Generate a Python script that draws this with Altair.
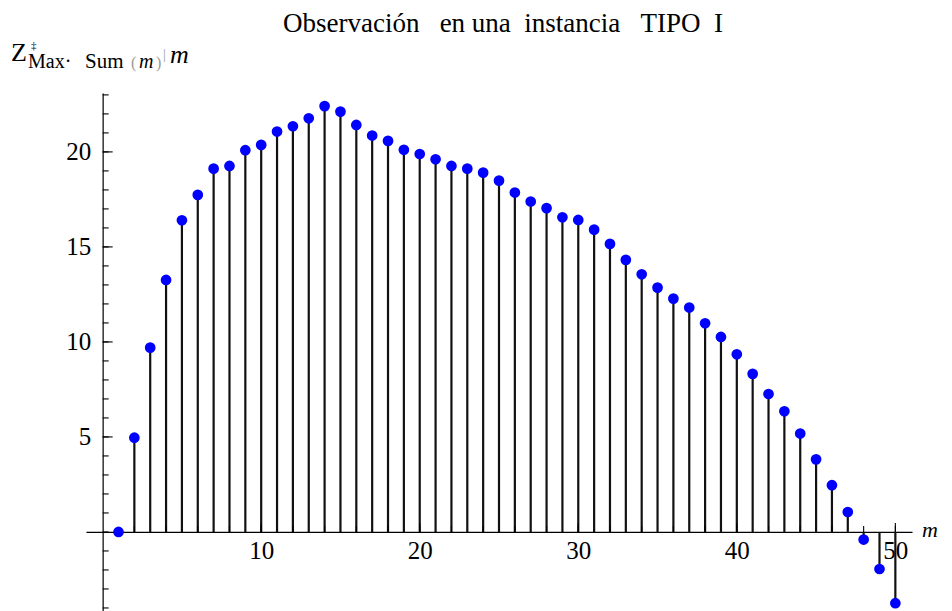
import altair as alt
import pandas as pd

# ---------------- data ----------------
m_values = list(range(1, 51))
z_values = [0.0, 4.96, 9.70, 13.26, 16.40, 17.74, 19.12, 19.26, 20.09, 20.37,
            21.07, 21.35, 21.77, 22.41, 22.12, 21.42, 20.86, 20.58, 20.11, 19.89,
            19.61, 19.26, 19.12, 18.91, 18.49, 17.86, 17.39, 17.04, 16.56, 16.42,
            15.91, 15.16, 14.32, 13.56, 12.86, 12.28, 11.81, 10.98, 10.26, 9.35,
            8.32, 7.26, 6.35, 5.18, 3.82, 2.46, 1.05, -0.40, -1.95, -3.75]
x_tick_labels = [10, 20, 30, 40, 50]
x_minor_ticks = list(range(2, 51, 2))
y_tick_labels = [5, 10, 15, 20]
y_minor_ticks = list(range(-4, 24))

title_text = "Observación\u00a0\u00a0\u00a0en\u00a0una\u00a0\u00a0instancia\u00a0\u00a0\u00a0TIPO\u00a0\u00a0I"

# ---------------- layout ----------------
W, H = 826, 518
X_DOMAIN = [-1.05, 51.05]
Y_DOMAIN = [-4.16, 23.1]
x0px = W * (0 - X_DOMAIN[0]) / (X_DOMAIN[1] - X_DOMAIN[0])
y0px = H * (Y_DOMAIN[1] - 0) / (Y_DOMAIN[1] - Y_DOMAIN[0])
FONT = "Liberation Serif"

df = pd.DataFrame({"m": m_values, "z": z_values})

xscale = alt.Scale(domain=X_DOMAIN, nice=False, zero=False)
yscale = alt.Scale(domain=Y_DOMAIN, nice=False, zero=False)

x_axis = alt.Axis(orient="bottom", offset=-(H - y0px), values=x_tick_labels,
                  ticks=False, tickSize=0, domain=True, domainColor="#000000",
                  domainWidth=1.2, grid=False, labelFont=FONT, labelFontSize=25,
                  labelColor="#000000", labelPadding=7, labelFlush=False, title=None)
y_axis = alt.Axis(orient="left", offset=-x0px, values=y_tick_labels,
                  ticks=False, tickSize=0, domain=True, domainColor="#000000",
                  domainWidth=1.2, grid=False, labelFont=FONT, labelFontSize=25,
                  labelColor="#000000", labelPadding=12, title=None)

stems = alt.Chart(df).mark_rule(color="#111111", strokeWidth=2.2).encode(
    x=alt.X("m:Q", scale=xscale, axis=x_axis),
    y=alt.Y("z:Q", scale=yscale, axis=y_axis),
    y2=alt.datum(0),
)

points = alt.Chart(df).mark_circle(size=115, color="#0000ff", opacity=1).encode(
    x=alt.X("m:Q", scale=xscale),
    y=alt.Y("z:Q", scale=yscale),
)

ytick_minor = alt.Chart(pd.DataFrame({"v": y_minor_ticks})).mark_tick(
    orient="horizontal", size=6, thickness=1.1, xOffset=3, color="#000000", opacity=1
).encode(x=alt.datum(0, scale=xscale), y=alt.Y("v:Q", scale=yscale))

ytick_major = alt.Chart(pd.DataFrame({"v": y_tick_labels})).mark_tick(
    orient="horizontal", size=10, thickness=1.1, xOffset=5, color="#000000", opacity=1
).encode(x=alt.datum(0, scale=xscale), y=alt.Y("v:Q", scale=yscale))

xtick_minor = alt.Chart(pd.DataFrame({"v": x_minor_ticks})).mark_tick(
    orient="vertical", size=6, thickness=1.1, yOffset=-3, color="#000000", opacity=1
).encode(x=alt.X("v:Q", scale=xscale), y=alt.datum(0, scale=yscale))

xtick_major = alt.Chart(pd.DataFrame({"v": x_tick_labels})).mark_tick(
    orient="vertical", size=9, thickness=1.1, yOffset=-4.5, color="#000000", opacity=1
).encode(x=alt.X("v:Q", scale=xscale), y=alt.datum(0, scale=yscale))


def label(text, x, y, size, style="normal", color="#000000"):
    return alt.Chart(pd.DataFrame({"t": [text]})).mark_text(
        font=FONT, fontSize=size, fontStyle=style, color=color,
        align="left", baseline="alphabetic"
    ).encode(x=alt.value(x), y=alt.value(y), text="t:N")


ylab = [
    label("Z", -75, -32, 26),
    label("‡", -55, -44, 11),
    label("Max·", -58, -25, 20),
    label("Sum", -1, -25, 21),
    label("(", 45, -25, 16, color="#999999"),
    label("m", 53, -25, 20, style="italic"),
    label(")", 70, -25, 16, color="#999999"),
    label("|", 77, -34, 14, color="#999999"),
    label("m", 84, -30, 26, style="italic"),
]
xlab = alt.Chart(pd.DataFrame({"t": ["m"]})).mark_text(
    font=FONT, fontSize=22, fontStyle="italic", color="#000000",
    align="left", baseline="middle"
).encode(x=alt.value(836), y=alt.value(y0px - 2), text="t:N")

chart = alt.layer(
    stems, points, ytick_minor, ytick_major, xtick_minor, xtick_major, xlab, *ylab
).properties(
    width=W, height=H,
    title=alt.TitleParams(text=title_text, font=FONT, fontSize=27, fontWeight="normal",
                          color="#000000", anchor="middle", offset=2, dx=4),
    autosize=alt.AutoSizeParams(type="none"),
    padding={"left": 78, "top": 85, "right": 32, "bottom": 0},
    background="#ffffff",
).configure_view(stroke=None)

chart.save("out.html", embed_options={"renderer": "svg", "actions": False})
